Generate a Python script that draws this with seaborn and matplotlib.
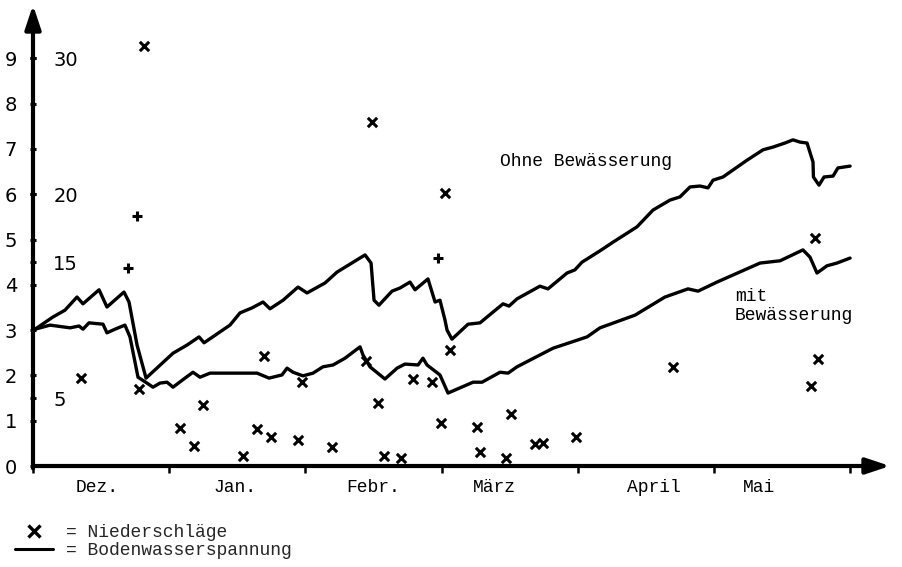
import numpy as np
import pandas as pd
import matplotlib
matplotlib.use("Agg")
import matplotlib.pyplot as plt
from matplotlib.lines import Line2D
import seaborn as sns

# Zeitachse in Monaten ab 1. Dezember (0 = Anfang Dez., 6 = Ende Mai)
ohne_monat = [0.015, 0.147, 0.235, 0.323, 0.367, 0.485, 0.543, 0.668, 0.705, 0.764,
              0.830, 1.028, 1.131, 1.219, 1.256, 1.446, 1.520, 1.608, 1.689, 1.740,
              1.836, 1.946, 2.012, 2.144, 2.232, 2.438, 2.482, 2.504, 2.540, 2.636,
              2.695, 2.768, 2.805, 2.900, 2.952, 2.988, 3.025, 3.040, 3.076, 3.194,
              3.282, 3.451, 3.495, 3.554, 3.722, 3.781, 3.921, 3.979, 4.031, 4.163,
              4.258, 4.435, 4.552, 4.677, 4.750, 4.824, 4.897, 4.956, 4.993, 5.066,
              5.242, 5.360, 5.433, 5.521, 5.580, 5.631, 5.683, 5.727, 5.730, 5.771,
              5.808, 5.874, 5.910, 5.999]
ohne_spannung = [3.02, 3.29, 3.44, 3.73, 3.58, 3.89, 3.51, 3.84, 3.62, 2.67,
                 1.94, 2.49, 2.67, 2.85, 2.72, 3.11, 3.38, 3.49, 3.62, 3.47,
                 3.66, 3.95, 3.82, 4.04, 4.28, 4.66, 4.48, 3.66, 3.55, 3.86,
                 3.93, 4.06, 3.89, 4.13, 3.62, 3.66, 3.22, 3.00, 2.80, 3.13,
                 3.16, 3.58, 3.53, 3.69, 3.97, 3.91, 4.26, 4.33, 4.50, 4.75,
                 4.94, 5.28, 5.65, 5.87, 5.94, 6.16, 6.18, 6.14, 6.31, 6.38,
                 6.75, 6.98, 7.04, 7.13, 7.20, 7.15, 7.13, 6.71, 6.38, 6.20,
                 6.38, 6.40, 6.58, 6.62]

mit_monat = [0.015, 0.125, 0.272, 0.338, 0.367, 0.411, 0.514, 0.543, 0.602, 0.675,
             0.712, 0.771, 0.837, 0.881, 0.932, 0.984, 1.028, 1.116, 1.175, 1.226,
             1.300, 1.645, 1.733, 1.828, 1.865, 1.909, 1.982, 2.056, 2.129, 2.203,
             2.291, 2.401, 2.423, 2.474, 2.584, 2.673, 2.731, 2.827, 2.863, 2.893,
             2.988, 3.047, 3.231, 3.297, 3.429, 3.488, 3.554, 3.818, 4.068, 4.163,
             4.420, 4.640, 4.809, 4.883, 5.022, 5.338, 5.485, 5.653, 5.705, 5.756,
             5.830, 5.903, 5.999]
mit_spannung = [3.02, 3.11, 3.05, 3.09, 3.02, 3.16, 3.13, 2.94, 3.02, 3.11,
                2.85, 1.96, 1.83, 1.74, 1.83, 1.85, 1.74, 1.94, 2.07, 1.96,
                2.05, 2.05, 1.94, 2.01, 2.16, 2.07, 1.99, 2.05, 2.19, 2.23,
                2.38, 2.63, 2.45, 2.19, 1.92, 2.16, 2.25, 2.23, 2.38, 2.23,
                2.01, 1.61, 1.85, 1.85, 2.07, 2.05, 2.19, 2.60, 2.85, 3.05,
                3.33, 3.73, 3.91, 3.86, 4.06, 4.48, 4.53, 4.77, 4.61, 4.26,
                4.42, 4.48, 4.59]

# Niederschläge (mm) mit Zeichen
regen_monat = [0.352, 0.698, 0.764, 0.815, 0.778, 1.079, 1.182, 1.248, 1.542, 1.645,
               1.696, 1.747, 1.946, 1.975, 2.195, 2.489, 2.445, 2.533, 2.577, 2.702,
               2.790, 2.930, 2.996, 3.025, 2.974, 3.062, 3.260, 3.282, 3.473, 3.510,
               3.686, 3.744, 3.987, 4.699, 5.742, 5.763, 5.712]
regen_mm = [6.5, 14.6, 18.4, 30.9, 5.7, 2.8, 1.5, 4.5, 0.7, 2.7,
            8.1, 2.1, 1.9, 6.2, 1.4, 25.3, 7.7, 4.6, 0.7, 0.6,
            6.4, 6.2, 3.2, 20.1, 15.3, 8.5, 2.9, 1.0, 0.6, 3.8,
            1.6, 1.7, 2.1, 7.3, 16.8, 7.9, 5.9]
regen_zeichen = ["x", "+", "+", "x", "x", "x", "x", "x", "x", "x",
                 "x", "x", "x", "x", "x", "x", "x", "x", "x", "x",
                 "x", "x", "x", "x", "+", "x", "x", "x", "x", "x",
                 "x", "x", "x", "x", "x", "x", "x"]

monate = ["Dez.", "Jan.", "Febr.", "März", "April", "Mai"]
monat_label_pos = [0.47, 1.48, 2.50, 3.39, 4.56, 5.33]
spannung_ticks = list(range(10))
regen_ticks = [5, 15, 20, 30]

sns.set_theme(style="white")
plt.rcParams["font.family"] = ["DejaVu Sans"]

fig = plt.figure(figsize=(9.03, 5.67), dpi=100)
W, H = 903, 567
x0, x1, y0, y1 = 33, 890, 466, 5
pos = [x0 / W, 1 - y0 / H, (x1 - x0) / W, (y0 - y1) / H]
ax = fig.add_axes(pos)
ax2 = ax.twinx()
ax2.set_position(pos)

px_per_month = 136.2
px_per_unit = 45.3
xmax = (x1 - x0) / px_per_month
ymax = (y0 - y1) / px_per_unit

df_ohne = pd.DataFrame({"Monat": ohne_monat, "Spannung": ohne_spannung})
df_mit = pd.DataFrame({"Monat": mit_monat, "Spannung": mit_spannung})
df_regen = pd.DataFrame({"Monat": regen_monat, "mm": regen_mm, "Zeichen": regen_zeichen})

sns.lineplot(data=df_ohne, x="Monat", y="Spannung", ax=ax, color="black",
             lw=2.4, estimator=None, sort=False)
sns.lineplot(data=df_mit, x="Monat", y="Spannung", ax=ax, color="black",
             lw=2.4, estimator=None, sort=False)

for zeichen in ["x", "+"]:
    sub = df_regen[df_regen["Zeichen"] == zeichen]
    sns.scatterplot(data=sub, x="Monat", y="mm", ax=ax2, marker=zeichen,
                    color="black", s=45, linewidth=2.2)

ax.set_xlim(0, xmax)
ax.set_ylim(0, ymax)
ax2.set_ylim(0, ymax * 10 / 3)

for a in (ax, ax2):
    for s in a.spines.values():
        s.set_visible(False)
    a.set_xlabel("")
    a.set_ylabel("")
    a.patch.set_visible(False)
    a.grid(False)

# Achsen mit Pfeilspitzen
arrow_kw = dict(arrowstyle="-|>,head_length=0.9,head_width=0.3", lw=3,
                color="black", shrinkA=0, shrinkB=0, mutation_scale=16)
ax.annotate("", xy=(0, 1), xytext=(0, -0.005), xycoords="axes fraction",
            textcoords="axes fraction", arrowprops=arrow_kw)
ax.annotate("", xy=(1, 0), xytext=(0, 0), xycoords="axes fraction",
            textcoords="axes fraction", arrowprops=arrow_kw)

# Linke Skala: Bodenwasserspannung
ax.set_yticks(spannung_ticks)
ax.set_yticklabels([str(t) for t in spannung_ticks])
ax.tick_params(axis="y", which="major", left=True, direction="inout",
               length=5, width=2.2, pad=9, labelsize=14, colors="black")

# Innere Skala: Niederschläge
ax2.yaxis.tick_left()
ax2.set_yticks(regen_ticks)
ax2.set_yticklabels([str(t) for t in regen_ticks])
ax2.tick_params(axis="y", left=True, right=False, labelleft=True, labelright=False,
                direction="inout", length=5, width=2.2, pad=-17, labelsize=14,
                colors="black")
plt.setp(ax2.get_yticklabels(), ha="left")

# Monatsgrenzen und Monatsnamen
ax.set_xticks(range(7))
ax.set_xticklabels([""] * 7)
ax.set_xticks(monat_label_pos, minor=True)
ax.set_xticklabels(monate, minor=True, family="Liberation Mono", fontsize=13)
ax.tick_params(axis="x", which="major", bottom=True, direction="out",
               length=5, width=1.8, colors="black")
ax.tick_params(axis="x", which="minor", bottom=True, length=0, pad=9,
               colors="black")

mono = dict(family="Liberation Mono", fontsize=13, color="black")
ax.text((500 - x0) / px_per_month, (y0 - 162) / px_per_unit, "Ohne Bewässerung",
        va="center", ha="left", **mono)
ax.text((735 - x0) / px_per_month, (y0 - 306) / px_per_unit, "mit\nBewässerung",
        va="center", ha="left", linespacing=1.12, **mono)

handles = [Line2D([], [], ls="none", marker="x", color="black", ms=8, mew=2.4),
           Line2D([], [], color="black", lw=2.2)]
fig.legend(handles, ["= Niederschläge", "= Bodenwasserspannung"],
           loc="upper left", bbox_to_anchor=(15 / W, 1 - 524 / H),
           frameon=False, prop=dict(family="Liberation Mono", size=13),
           handlelength=2.1, handletextpad=0.7, labelspacing=0.08,
           borderpad=0, borderaxespad=0)

fig.savefig("out.png", dpi=100)
